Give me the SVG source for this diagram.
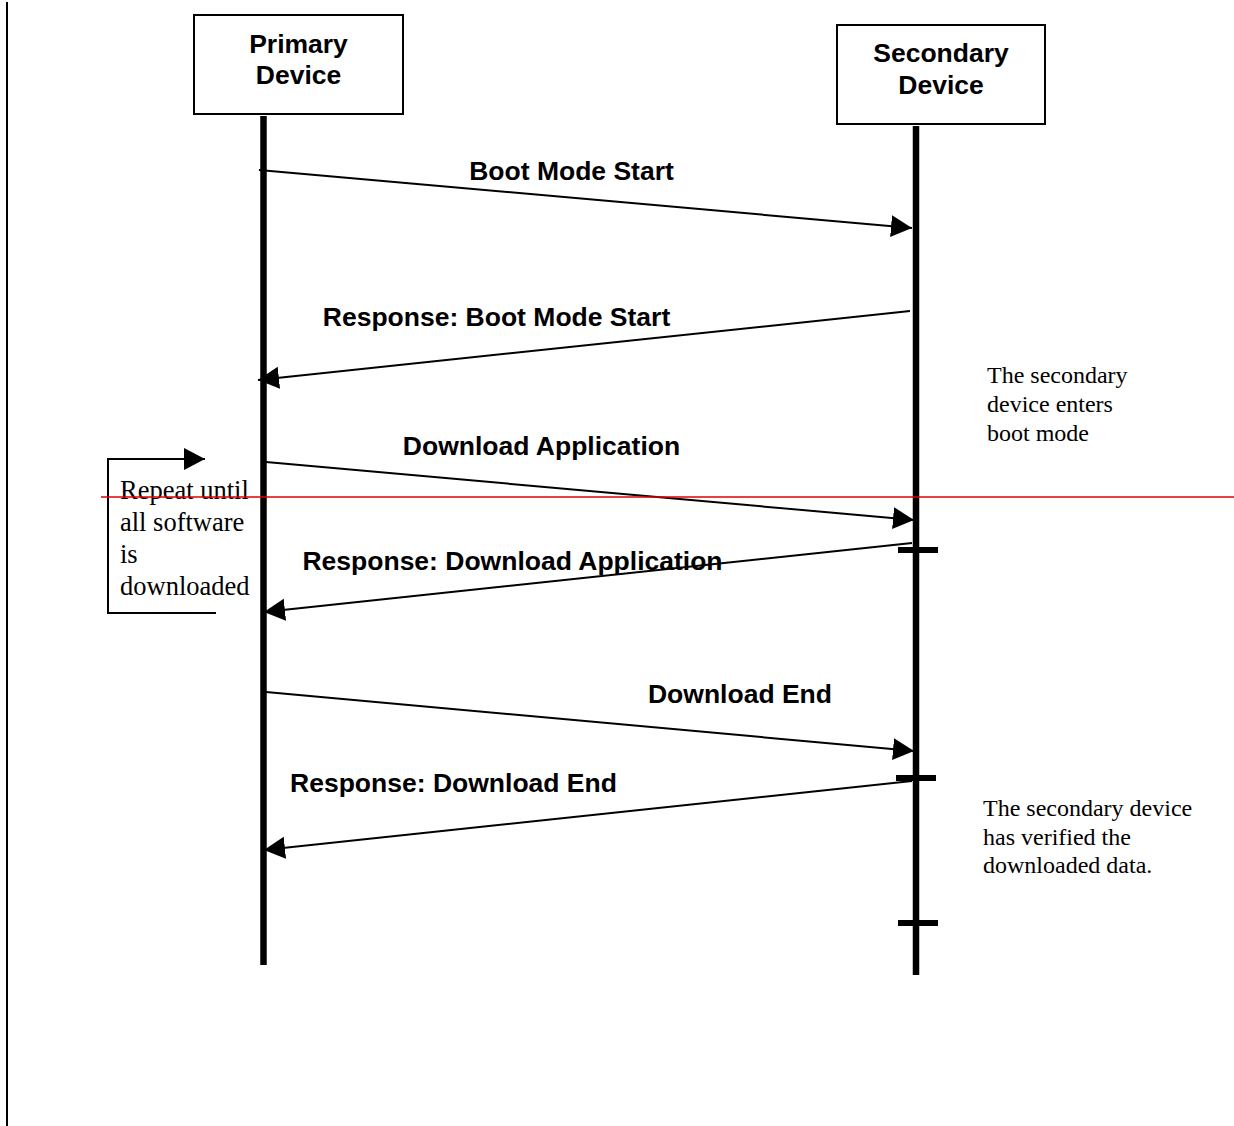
<svg xmlns="http://www.w3.org/2000/svg" width="1234" height="1126" viewBox="0 0 1234 1126">
<defs>
<style>
.box{fill:#fff;stroke:#000;stroke-width:2}
.life{stroke:#000;stroke-width:6.5;fill:none}
.msg{stroke:#000;stroke-width:2;fill:none}
.tick{stroke:#000;stroke-width:6;fill:none}
.hd{font-family:"Liberation Sans",Arial,sans-serif;font-weight:bold;font-size:26.5px;fill:#000;text-anchor:middle}
.note{font-family:"Liberation Serif","Times New Roman",serif;font-size:24px;fill:#000}
.rep{font-family:"Liberation Serif","Times New Roman",serif;font-size:26.5px;fill:#000}
</style>
<marker id="ah" markerUnits="userSpaceOnUse" markerWidth="24" markerHeight="24" refX="21" refY="11" orient="auto">
<path d="M0,0 L21,11 L0,22 Z" fill="#000"/>
</marker>
</defs>
<rect width="1234" height="1126" fill="#fff"/>
<line x1="7" y1="2" x2="7" y2="1126" stroke="#000" stroke-width="2"/>
<g id="primary">
<rect class="box" x="194" y="15" width="209" height="99"/>
<text class="hd" x="298.5" y="53">Primary</text>
<text class="hd" x="298.5" y="84">Device</text>
<line class="life" x1="263.5" y1="116" x2="263.5" y2="965"/>
</g>
<g id="secondary">
<rect class="box" x="837" y="25" width="208" height="99"/>
<text class="hd" x="941" y="62">Secondary</text>
<text class="hd" x="941" y="94">Device</text>
<line class="life" x1="916" y1="126" x2="916" y2="975"/>
<line class="tick" x1="898" y1="550" x2="938" y2="550"/>
<line class="tick" x1="896" y1="778" x2="936" y2="778"/>
<line class="tick" x1="898" y1="923" x2="938" y2="923"/>
</g>
<g id="connectors">
<line class="msg" x1="259" y1="170" x2="912" y2="228" marker-end="url(#ah)"/>
<line class="msg" x1="910" y1="311" x2="258" y2="380" marker-end="url(#ah)"/>
<line class="msg" x1="266" y1="462" x2="914" y2="520" marker-end="url(#ah)"/>
<line class="msg" x1="912" y1="543" x2="264" y2="612" marker-end="url(#ah)"/>
<line class="msg" x1="266" y1="692" x2="914" y2="751" marker-end="url(#ah)"/>
<line class="msg" x1="912" y1="781" x2="264" y2="850" marker-end="url(#ah)"/>
<polyline class="msg" points="216,613 108,613 108,459 205,459" marker-end="url(#ah)"/>
</g>
<g id="labels">
<text class="hd" x="571.5" y="180">Boot Mode Start</text>
<text class="hd" x="496.5" y="326">Response: Boot Mode Start</text>
<text class="hd" x="541.5" y="455">Download Application</text>
<text class="hd" x="512.5" y="570">Response: Download Application</text>
<text class="hd" x="740" y="703">Download End</text>
<text class="hd" x="453.5" y="792">Response: Download End</text>
</g>
<g id="repeat-note">
<text class="rep" x="120" y="499">Repeat until</text>
<text class="rep" x="120" y="531">all software</text>
<text class="rep" x="120" y="563">is</text>
<text class="rep" x="120" y="595">downloaded</text>
</g>
<g id="boot-note">
<text class="note" x="987" y="383">The secondary</text>
<text class="note" x="987" y="412">device enters</text>
<text class="note" x="987" y="441">boot mode</text>
</g>
<g id="verify-note">
<text class="note" x="983" y="816">The secondary device</text>
<text class="note" x="983" y="845">has verified the</text>
<text class="note" x="983" y="873">downloaded data.</text>
</g>
<line x1="101" y1="497" x2="1234" y2="497" stroke="#e00000" stroke-width="1.5"/>
</svg>
